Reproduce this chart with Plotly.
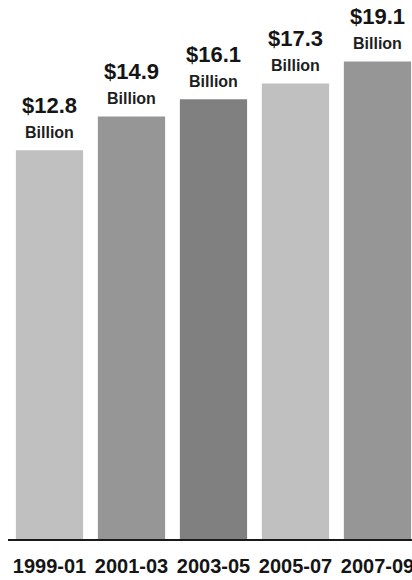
import math
import plotly.graph_objects as go

# Two-year periods and total spending (billions of dollars)
periods = ["1999-01", "2001-03", "2003-05", "2005-07", "2007-09"]
spending = [12.8, 14.9, 16.1, 17.3, 19.1]
bar_colors = ["#c0c0c0", "#969696", "#808080", "#c0c0c0", "#969696"]

FONT = "Liberation Sans, Arial, sans-serif"

fig = go.Figure(
    go.Bar(
        x=periods,
        y=spending,
        marker=dict(color=bar_colors, line=dict(width=0)),
        hoverinfo="skip",
    )
)

# Dollar amount and unit above each bar
for p, v in zip(periods, spending):
    fig.add_annotation(
        x=p, y=math.log10(v), yref="y", xref="x",
        text=f"<b>${v:.1f}</b>", showarrow=False,
        yanchor="middle", yshift=45,
        font=dict(family=FONT, size=22, color="#151515"),
    )
    fig.add_annotation(
        x=p, y=math.log10(v), yref="y", xref="x",
        text="<b>Billion</b>", showarrow=False,
        yanchor="middle", yshift=18,
        font=dict(family=FONT, size=16, color="#1e1e1e"),
    )

y_lo = 0.3446
y_hi = y_lo + 539 / 509.9

fig.update_layout(
    width=412, height=580,
    margin=dict(l=8, r=0, t=0, b=41),
    paper_bgcolor="white", plot_bgcolor="white",
    bargap=0.18,
    showlegend=False,
    xaxis=dict(
        type="category",
        range=[-0.506, 4.421],
        showline=True, linecolor="#1a1a1a", linewidth=2,
        showgrid=False, zeroline=False, ticks="",
        tickangle=0, automargin=False,
        tickfont=dict(family=FONT, size=20, color="#151515", weight="bold"),
        ticklabelstandoff=8,
        fixedrange=True,
    ),
    yaxis=dict(
        type="log", range=[y_lo, y_hi], visible=False, fixedrange=True,
    ),
)

fig.write_html("out.html")
